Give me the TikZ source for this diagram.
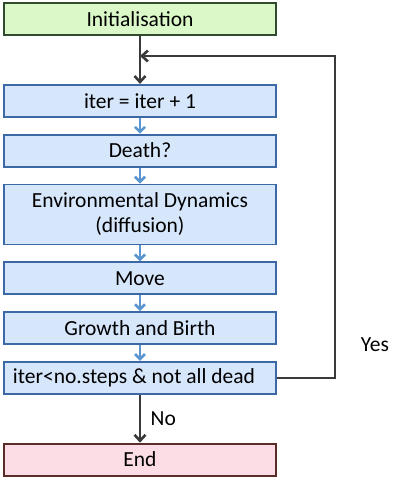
\documentclass[tikz,border=0pt]{standalone}
\usepackage{fontspec}
\setmainfont{Carlito}
\usetikzlibrary{positioning,arrows.meta}

\definecolor{initfill}{HTML}{DBF8C9}
\definecolor{initline}{HTML}{324A2E}
\definecolor{boxfill}{HTML}{D6E6FB}
\definecolor{boxline}{HTML}{3C68A6}
\definecolor{endfill}{HTML}{FCDDE6}
\definecolor{endline}{HTML}{5A2C2C}
\definecolor{flowblue}{HTML}{5B95D0}
\definecolor{loopgray}{HTML}{3A3A3A}

\begin{document}
\begin{tikzpicture}[
    x=1pt, y=1pt,
    node distance=16pt,
    every node/.style={font=\fontsize{21.5}{25}\selectfont, text=black},
    process/.style={
        rectangle,
        draw=boxline,
        fill=boxfill,
        line width=1.8pt,
        minimum width=272pt,
        minimum height=32pt,
        inner sep=0pt,
        align=center
    },
    startbox/.style={process, draw=initline, fill=initfill},
    stopbox/.style={process, draw=endline, fill=endfill},
    arrow/.style={-{Straight Barb[length=5pt,width=10pt]}, line width=2.6pt, flowblue},
    mainarrow/.style={-{Straight Barb[length=6pt,width=11pt]}, line width=2.6pt, loopgray}
]
\useasboundingbox (0,0) rectangle (418,-483);

% Nodes
\node (init) [startbox] at (140,-19) {Initialisation};

\node (iter) [process, below=48pt of init] {iter = iter + 1};

\node (death) [process, below=of iter] {Death?};

\node (env) [process, below=of death, minimum height=60pt]
{Environmental Dynamics\\(diffusion)};

\node (move) [process, below=of env] {Move};

\node (growth) [process, below=of move] {Growth and Birth};

\node (check) [process, below=of growth] {iter<no.steps \& not all dead\hspace{12pt}};

\node (stop) [stopbox, below=48pt of check] {End};

\coordinate (loopin) at (140,-56);

% Arrows
\draw [mainarrow] (init) -- (iter);
\draw [arrow] (iter) -- (death);
\draw [arrow] (death) -- (env);
\draw [arrow] (env) -- (move);
\draw [arrow] (move) -- (growth);
\draw [arrow] (growth) -- (check);
\draw [mainarrow] (check) -- node [right=6pt] {No} (stop);
\draw [mainarrow] (check.east) -- ++(58,0) |- (loopin);

% Labels
\node (yes) at (375,-345) {Yes};

\end{tikzpicture}
\end{document}
